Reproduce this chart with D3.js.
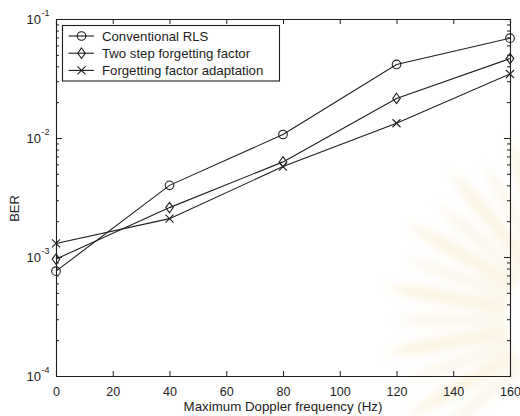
<!DOCTYPE html>
<html>
<head>
<meta charset="utf-8">
<script src="https://cdn.jsdelivr.net/npm/d3@7"></script>
<style>
  html, body { margin: 0; padding: 0; background: #fff; }
  svg { display: block; }
  text { font-family: "Liberation Sans", Arial, sans-serif; fill: #222; }
</style>
</head>
<body>
<svg id="chart" width="520" height="416"></svg>
<script>
// Maximum Doppler frequency (Hz)
const doppler = [0, 40, 80, 120, 160];
// BER per receiver
const berConventional = [7.6e-4, 4.0e-3, 1.07e-2, 4.15e-2, 6.9e-2];
const berTwoStep      = [9.6e-4, 2.6e-3, 6.3e-3, 2.15e-2, 4.65e-2];
const berAdaptive     = [1.3e-3, 2.1e-3, 5.75e-3, 1.33e-2, 3.45e-2];

const seriesNames = ["Conventional RLS", "Two step forgetting factor", "Forgetting factor adaptation"];
const markerKinds = ["circle", "diamond", "cross"];

const xTicks = [0, 20, 40, 60, 80, 100, 120, 140, 160];
const yDecades = [-4, -3, -2, -1];

const svg = d3.select("#chart");
const W = 520, H = 416;
const m = { left: 56, right: 10, top: 19, bottom: 40 };
const x0 = m.left, x1 = W - m.right, y0 = H - m.bottom, y1 = m.top;
const ink = "#1e1e1e";

// faint sunburst emblem in the lower right background
const defs = svg.append("defs");
defs.append("filter").attr("id", "soft")
  .attr("x", "-20%").attr("y", "-20%").attr("width", "140%").attr("height", "140%")
  .append("feGaussianBlur").attr("stdDeviation", 4.5);
const emblem = svg.append("g").attr("filter", "url(#soft)").attr("opacity", 0.3);
const cx = 575, cy = 320;
d3.range(140, 256, 10).forEach((deg, i) => {
  const a = deg * Math.PI / 180;
  const len = 185 + (i % 2) * 12, inner = 70, half = 0.045;
  const pts = [
    [cx + inner * Math.cos(a - half * 2), cy + inner * Math.sin(a - half * 2)],
    [cx + len * 0.8 * Math.cos(a - half), cy + len * 0.8 * Math.sin(a - half)],
    [cx + len * Math.cos(a), cy + len * Math.sin(a)],
    [cx + len * 0.8 * Math.cos(a + half), cy + len * 0.8 * Math.sin(a + half)],
    [cx + inner * Math.cos(a + half * 2), cy + inner * Math.sin(a + half * 2)]
  ];
  emblem.append("path").attr("d", d3.line()(pts) + "Z")
    .attr("fill", i % 2 ? "#f0dca0" : "#f4e6c4");
});

const x = d3.scaleLinear().domain([0, 160]).range([x0, x1]);
const y = d3.scaleLog().domain([1e-4, 1e-1]).range([y0, y1]);

// bottom axis with labels, inward ticks
const gx = svg.append("g").attr("transform", `translate(0,${y0})`)
  .call(d3.axisBottom(x).tickValues(xTicks).tickSize(-5).tickPadding(11).tickFormat(d3.format("d")));
gx.selectAll("text").attr("font-size", 12.5).attr("fill", "#222");
// top axis, ticks only
const gxt = svg.append("g").attr("transform", `translate(0,${y1})`)
  .call(d3.axisTop(x).tickValues(xTicks).tickSize(-5).tickFormat(""));

// major and minor ticks on the log axis, both sides
const majorVals = yDecades.map(p => Math.pow(10, p));
const minorVals = [];
yDecades.slice(0, -1).forEach(p => { for (let k = 2; k <= 9; k++) minorVals.push(k * Math.pow(10, p)); });

const gy = svg.append("g").attr("transform", `translate(${x0},0)`)
  .call(d3.axisLeft(y).tickValues(majorVals).tickSize(-6).tickFormat(""));
const gyr = svg.append("g").attr("transform", `translate(${x1},0)`)
  .call(d3.axisRight(y).tickValues(majorVals).tickSize(-6).tickFormat(""));
const gym = svg.append("g").attr("transform", `translate(${x0},0)`)
  .call(d3.axisLeft(y).tickValues(minorVals).tickSize(-3).tickFormat(""));
const gymr = svg.append("g").attr("transform", `translate(${x1},0)`)
  .call(d3.axisRight(y).tickValues(minorVals).tickSize(-3).tickFormat(""));
[gym, gymr].forEach(g => g.select(".domain").remove());
[gx, gxt, gy, gyr, gym, gymr].forEach(g => {
  g.selectAll("line").attr("stroke", ink).attr("stroke-width", 1);
  g.selectAll(".domain").attr("stroke", ink).attr("stroke-width", 1.1);
});

// y tick labels as 10^n
yDecades.forEach(p => {
  const yy = y(Math.pow(10, p));
  svg.append("text")
    .attr("x", 41).attr("y", yy + 4.5)
    .attr("text-anchor", "end").attr("font-size", 13).text("10");
  svg.append("text")
    .attr("x", 41.5).attr("y", yy - 3)
    .attr("font-size", 9).text(String(p));
});

// axis titles
svg.append("text").attr("x", (x0 + x1) / 2).attr("y", 410.5)
  .attr("text-anchor", "middle").attr("font-size", 13.3).text("Maximum Doppler frequency (Hz)");
svg.append("text").attr("transform", `translate(18.5,${(y0 + y1) / 2 + 11}) rotate(-90)`)
  .attr("text-anchor", "middle").attr("font-size", 13).text("BER");

// markers
function drawMarker(g, kind, px, py) {
  if (kind === "circle") {
    g.append("circle").attr("cx", px).attr("cy", py).attr("r", 4.3)
      .attr("fill", "none").attr("stroke", ink).attr("stroke-width", 1.1);
  } else if (kind === "diamond") {
    g.append("path")
      .attr("d", `M${px},${py - 5.2}L${px + 3.8},${py}L${px},${py + 5.2}L${px - 3.8},${py}Z`)
      .attr("fill", "none").attr("stroke", ink).attr("stroke-width", 1.1);
  } else {
    const s = 4;
    g.append("path")
      .attr("d", `M${px - s},${py - s}L${px + s},${py + s}M${px - s},${py + s}L${px + s},${py - s}`)
      .attr("fill", "none").attr("stroke", ink).attr("stroke-width", 1.1);
  }
}

const allSeries = [berConventional, berTwoStep, berAdaptive];
const line = d3.line().x(d => x(d[0])).y(d => y(d[1]));
allSeries.forEach((vals, i) => {
  const pts = doppler.map((d, j) => [d, vals[j]]);
  const g = svg.append("g");
  g.append("path").attr("d", line(pts)).attr("fill", "none")
    .attr("stroke", ink).attr("stroke-width", 1.1);
  pts.forEach(p => drawMarker(g, markerKinds[i], x(p[0]), y(p[1])));
});

// legend
const lg = svg.append("g");
lg.append("rect").attr("x", 62.5).attr("y", 25.5).attr("width", 217).attr("height", 55.5)
  .attr("fill", "#fff").attr("stroke", ink).attr("stroke-width", 1.1);
seriesNames.forEach((name, i) => {
  const ly = 36 + i * 17.2;
  lg.append("line").attr("x1", 68.5).attr("x2", 94).attr("y1", ly).attr("y2", ly)
    .attr("stroke", ink).attr("stroke-width", 1.1);
  drawMarker(lg, markerKinds[i], 81.5, ly);
  lg.append("text").attr("x", 102).attr("y", ly + 4.6).attr("font-size", 13.2).text(name);
});
</script>
</body>
</html>
